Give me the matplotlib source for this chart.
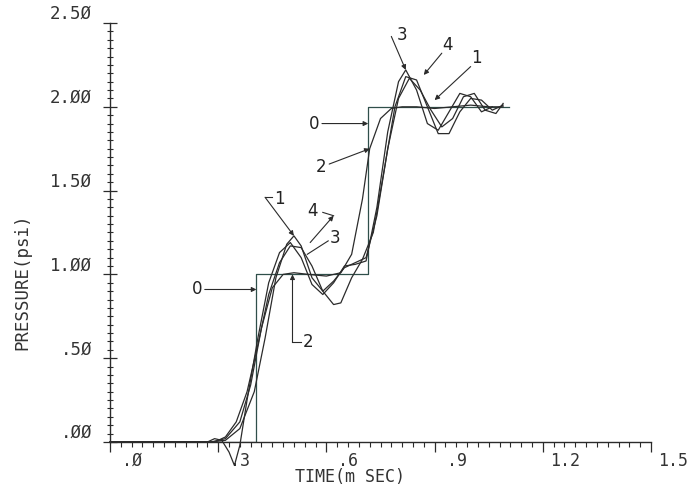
import matplotlib
matplotlib.use("Agg")
import matplotlib.pyplot as plt
from matplotlib.transforms import ScaledTranslation

# step input (curve 0)
step_t = [0.0, 0.406, 0.406, 0.716, 0.716, 1.106]
step_p = [0.0, 0.0, 1.0, 1.0, 2.0, 2.0]

# responses, time in ms, pressure in psi
t1 = [0.0, 0.28, 0.32, 0.36, 0.40, 0.43, 0.46, 0.49, 0.51, 0.53, 0.56, 0.59, 0.62, 0.65, 0.68,
      0.71, 0.74, 0.77, 0.80, 0.83, 0.86, 0.89, 0.92, 0.95, 0.98, 1.01, 1.04, 1.07, 1.09]
p1 = [0.0, 0.0, 0.01, 0.08, 0.30, 0.62, 0.98, 1.18, 1.23, 1.17, 0.98, 0.90, 0.96, 1.04, 1.07,
      1.10, 1.35, 1.75, 2.05, 2.17, 2.10, 1.98, 1.88, 1.93, 2.06, 2.08, 1.98, 1.96, 2.02]

t2 = [0.0, 0.28, 0.32, 0.36, 0.39, 0.42, 0.45, 0.48, 0.51, 0.55, 0.60, 0.64, 0.67, 0.70,
      0.72, 0.75, 0.78, 0.81, 0.85, 0.90, 0.95, 1.00, 1.05, 1.09]
p2 = [0.0, 0.0, 0.02, 0.12, 0.34, 0.68, 0.92, 1.00, 1.01, 1.00, 0.99, 1.01, 1.12, 1.45,
      1.75, 1.93, 1.99, 2.00, 2.00, 1.99, 2.00, 2.01, 2.00, 2.00]

t3 = [0.0, 0.27, 0.29, 0.31, 0.33, 0.345, 0.36, 0.38, 0.41, 0.44, 0.47, 0.50, 0.53, 0.56,
      0.59, 0.62, 0.65, 0.68, 0.71, 0.74, 0.77, 0.80, 0.82, 0.85, 0.88, 0.91, 0.94, 0.97,
      1.00, 1.03, 1.06]
p3 = [0.0, 0.0, 0.02, 0.01, -0.06, -0.14, -0.02, 0.25, 0.62, 0.95, 1.13, 1.19, 1.10, 0.94,
      0.88, 0.95, 1.05, 1.06, 1.08, 1.40, 1.85, 2.15, 2.22, 2.10, 1.90, 1.86, 1.97, 2.08,
      2.06, 1.97, 2.00]

t4 = [0.0, 0.29, 0.32, 0.35, 0.38, 0.41, 0.44, 0.47, 0.50, 0.53, 0.56, 0.59, 0.62, 0.64,
      0.67, 0.70, 0.73, 0.76, 0.79, 0.82, 0.85, 0.88, 0.91, 0.94, 0.97, 1.00, 1.03, 1.06, 1.09]
p4 = [0.0, 0.0, 0.03, 0.12, 0.30, 0.58, 0.88, 1.07, 1.17, 1.16, 1.05, 0.90, 0.82, 0.83,
      0.98, 1.09, 1.25, 1.62, 2.00, 2.18, 2.16, 2.00, 1.84, 1.84, 1.97, 2.05, 2.04, 1.98, 2.01]

x_ticks = [0.0, 0.3, 0.6, 0.9, 1.2, 1.5]
x_labels = [".Ø", ".3", ".6", ".9", "1.2", "1.5"]
y_ticks = [0.0, 0.5, 1.0, 1.5, 2.0, 2.5]
y_labels = [".ØØ", ".5Ø", "1.ØØ", "1.5Ø", "2.ØØ", "2.5Ø"]

ink = "#2b2b2b"
fig = plt.figure(figsize=(6.96, 4.86), dpi=100)
ax = fig.add_axes([110 / 696, 44 / 486, 541 / 696, 419 / 486])

ax.plot(step_t, step_p, color="#2f4f4a", lw=0.9)
for t, p in [(t1, p1), (t2, p2), (t3, p3), (t4, p4)]:
    ax.plot(t, p, color=ink, lw=0.9, clip_on=False)

ax.set_xlim(0, 1.5)
ax.set_ylim(0, 2.5)
for s in ["top", "right"]:
    ax.spines[s].set_visible(False)
for s in ["left", "bottom"]:
    ax.spines[s].set_color(ink)
    ax.spines[s].set_linewidth(1.0)

mono = "DejaVu Sans Mono"
ax.set_xticks(x_ticks)
ax.set_xticklabels(x_labels, family=mono, fontsize=12, color="#333333")
ax.set_xticks([i * 0.03 for i in range(51)], minor=True)
ax.set_yticks(y_ticks)
ax.set_yticklabels(y_labels, family=mono, fontsize=12.5, color="#333333")
ax.set_yticks([i * 0.05 for i in range(51)], minor=True)
ax.tick_params(axis="x", which="major", direction="out", length=7, width=0.9, color=ink, pad=0)
ax.tick_params(axis="x", which="minor", direction="out", length=3.5, width=0.8, color=ink)
ax.tick_params(axis="y", which="major", direction="inout", length=10, width=0.9, color=ink, pad=8)
ax.tick_params(axis="y", which="minor", direction="inout", length=5, width=0.8, color=ink)

# plotter labels sit right of the x ticks and on top of the y ticks
for lab in ax.get_xticklabels():
    lab.set_transform(lab.get_transform() + ScaledTranslation(0.22, 0, fig.dpi_scale_trans))
for lab in ax.get_yticklabels():
    lab.set_verticalalignment("bottom")

fig.text(350 / 696, 1 - 477 / 486, "TIME(m SEC)", family=mono, fontsize=12,
         color="#333333", ha="center", va="center")
fig.text(22 / 696, 1 - 282 / 486, "PRESSURE(psi)", family=mono, fontsize=12.5,
         color="#333333", ha="center", va="center", rotation=90)

# curve tags with leader arrows
hand = dict(fontsize=12, color="#222222", family="DejaVu Sans")
arr = dict(arrowstyle="-|>", color=ink, lw=0.8, mutation_scale=7, shrinkA=0, shrinkB=0)
ax.annotate("0", xy=(0.406, 0.91), xytext=(0.255, 0.91), va="center", ha="right",
            arrowprops=arr, **hand)
ax.annotate("0", xy=(0.716, 1.90), xytext=(0.58, 1.90), va="center", ha="right",
            arrowprops=arr, **hand)
ax.annotate("2", xy=(0.72, 1.75), xytext=(0.60, 1.64), va="center", ha="right",
            arrowprops=arr, **hand)
ax.annotate("", xy=(0.506, 1.0), xytext=(0.506, 0.595), arrowprops=arr)
ax.plot([0.506, 0.53], [0.595, 0.595], color=ink, lw=0.8)
ax.text(0.535, 0.595, "2", va="center", ha="left", **hand)
ax.annotate("", xy=(0.51, 1.23), xytext=(0.43, 1.46), arrowprops=arr)
ax.plot([0.43, 0.45], [1.46, 1.46], color=ink, lw=0.8)
ax.text(0.455, 1.45, "1", va="center", ha="left", **hand)
ax.annotate("", xy=(0.62, 1.35), xytext=(0.555, 1.19), arrowprops=arr)
ax.plot([0.62, 0.59], [1.35, 1.37], color=ink, lw=0.8)
ax.text(0.575, 1.38, "4", va="center", ha="right", **hand)
ax.plot([0.547, 0.605], [1.12, 1.20], color=ink, lw=0.8)
ax.text(0.61, 1.22, "3", va="center", ha="left", **hand)
ax.annotate("", xy=(0.82, 2.22), xytext=(0.78, 2.42), arrowprops=arr)
ax.text(0.81, 2.43, "3", va="center", ha="center", **hand)
ax.annotate("", xy=(0.87, 2.19), xytext=(0.92, 2.32), arrowprops=arr)
ax.text(0.935, 2.37, "4", va="center", ha="center", **hand)
ax.annotate("", xy=(0.90, 2.04), xytext=(1.0, 2.24), arrowprops=arr)
ax.text(1.015, 2.29, "1", va="center", ha="center", **hand)

fig.savefig("out.png", dpi=100, facecolor="white")
